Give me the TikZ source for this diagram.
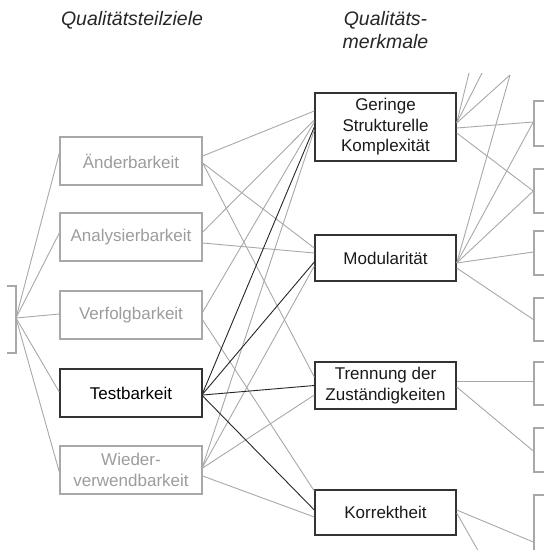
\documentclass[tikz,border=0pt]{standalone}
\usepackage{fontspec}
\setmainfont{Liberation Sans}
\usetikzlibrary{calc}

\definecolor{softgray}{HTML}{A8A8A8}
\definecolor{softtext}{HTML}{9C9C9C}
\definecolor{darkline}{HTML}{262626}
\definecolor{darkbox}{HTML}{333333}

\newcommand\diagboxfont{\fontsize{17}{20.5}\selectfont}
\newcommand\diaghead{\fontsize{19.5}{23}\selectfont\itshape}

\tikzset{
  goalbox/.style={draw=softgray, line width=1.4pt, text=softtext,
    minimum width=142pt, minimum height=48pt, inner sep=0pt,
    align=center, font=\diagboxfont},
  focusbox/.style={goalbox, draw=darkbox, text=black},
  traitbox/.style={draw=darkbox, line width=1.4pt, text=black!90,
    minimum width=141pt, inner sep=0pt, align=center, font=\diagboxfont},
  metricbox/.style={draw=softgray, line width=1.4pt, minimum width=52pt,
    inner sep=0pt},
  thin/.style={draw=softgray, line width=0.9pt},
  strong/.style={draw=darkline, line width=0.9pt},
  headline/.style={font=\diaghead, text=black!85, align=center, inner sep=0pt, anchor=base}
}

\begin{document}
\begin{tikzpicture}[x=1pt, y=-1pt]
  \useasboundingbox (0,0) rectangle (544,550);
  \clip (0,0) rectangle (544,550);

  % column headings (base anchor sits on the last line)
  \node[headline] (h1) at (132,25) {Qualitätsteilziele};
  \node[headline] (h2) at (385.5,48) {Qualitäts-\\merkmale};

  % root (partly outside the frame)
  \draw[softgray, line width=1.4pt] (7,286) -- (16,286) -- (16,353) -- (7,353);
  \coordinate (root) at (16,318);

  % quality sub-goals
  \node[goalbox]  (ae) at (131,161) {Änderbarkeit};
  \node[goalbox]  (an) at (131,237) {Analysierbarkeit};
  \node[goalbox]  (vf) at (131,315) {Verfolgbarkeit};
  \node[focusbox] (tb) at (131,393) {Testbarkeit};
  \node[goalbox]  (wv) at (131,470) {Wieder-\\verwendbarkeit};

  % quality characteristics
  \node[traitbox, minimum height=68pt] (gs) at (385.5,127) {Geringe\\Strukturelle\\Komplexität};
  \node[traitbox, minimum height=46pt] (mo) at (385.5,258) {Modularität};
  \node[traitbox, minimum height=47pt] (tr) at (385.5,385.5) {Trennung der\\Zuständigkeiten};
  \node[traitbox, minimum height=45pt] (ko) at (385.5,512.5) {Korrektheit};

  % metrics column (cut at the right border)
  \node[metricbox, minimum height=45pt] (r1) at (560,123.5) {};
  \node[metricbox, minimum height=44pt] (r2) at (560,191) {};
  \node[metricbox, minimum height=44pt] (r3) at (560,253) {};
  \node[metricbox, minimum height=43pt] (r4) at (560,319.5) {};
  \node[metricbox, minimum height=43pt] (r5) at (560,383.5) {};
  \node[metricbox, minimum height=44pt] (r6) at (560,450) {};
  \node[metricbox, minimum height=105pt] (r7) at (560,547.5) {};

  % loose ends leaving the frame
  \coordinate (up1) at (469,73);
  \coordinate (up2) at (482,73);
  \coordinate (up3) at (510,75);
  \coordinate (down1) at (484,561);

  % root to sub-goals
  \draw[thin] (root) -- ($(ae.west)+(0,-8)$);
  \draw[thin] (root) -- ($(an.west)+(0,-4)$);
  \draw[thin] (root) -- ($(vf.west)+(0,-1)$);
  \draw[thin] (root) -- ($(tb.west)+(0,-1)$);
  \draw[thin] (root) -- ($(wv.west)+(0,2)$);

  % sub-goals to characteristics
  \draw[thin] ($(ae.east)+(0,-5)$) -- ($(gs.west)+(0,-16)$);
  \draw[thin] ($(ae.east)+(0,2)$) -- ($(mo.west)+(0,-10)$);
  \draw[thin] ($(ae.east)+(0,2)$) -- ($(tr.west)+(0,-8.5)$);
  \draw[thin] ($(an.east)+(0,-5)$) -- ($(gs.west)+(0,-7)$);
  \draw[thin] ($(an.east)+(0,6)$) -- ($(mo.west)+(0,-5)$);
  \draw[thin] ($(vf.east)+(0,-3)$) -- ($(gs.west)+(0,-5)$);
  \draw[thin] ($(vf.east)+(0,5)$) -- ($(ko.west)+(0,-21.5)$);
  \draw[thin] ($(wv.east)+(0,-4)$) -- ($(gs.west)+(0,3)$);
  \draw[thin] ($(wv.east)+(0,-3)$) -- ($(mo.west)+(0,8)$);
  \draw[thin] ($(wv.east)+(0,-2)$) -- ($(tr.west)+(0,9.5)$);
  \draw[thin] ($(wv.east)+(0,6)$) -- ($(ko.west)+(0,4.5)$);

  \draw[strong] (tb.east) -- (gs.west);
  \draw[strong] ($(tb.east)+(0,1)$) -- ($(mo.west)+(0,4)$);
  \draw[strong] ($(tb.east)+(0,2)$) -- (tr.west);
  \draw[strong] ($(tb.east)+(0,3)$) -- ($(ko.west)+(0,-2.5)$);

  % characteristics to metrics
  \draw[thin] ($(gs.east)+(0,-4)$) -- (up1);
  \draw[thin] ($(gs.east)+(0,-4)$) -- (up2);
  \draw[thin] ($(gs.east)+(0,-4)$) -- (up3);
  \draw[thin] ($(gs.east)+(0,1)$) -- ($(r1.west)+(0,-1.5)$);
  \draw[thin] ($(gs.east)+(0,6)$) -- (r2.west);
  \draw[thin] ($(mo.east)+(0,5)$) -- (up3);
  \draw[thin] ($(mo.east)+(0,5)$) -- ($(r1.west)+(0,-1.5)$);
  \draw[thin] ($(mo.east)+(0,5)$) -- (r2.west);
  \draw[thin] ($(mo.east)+(0,5)$) -- ($(r3.west)+(0,-1)$);
  \draw[thin] ($(mo.east)+(0,10)$) -- (r4.west);
  \draw[thin] ($(tr.east)+(0,-4.5)$) -- ($(r5.west)+(0,-2.5)$);
  \draw[thin] ($(tr.east)+(0,1.5)$) -- ($(r6.west)+(0,1)$);
  \draw[thin] ($(ko.east)+(0,-2.5)$) -- ($(r7.west)+(0,-5.5)$);
  \draw[thin] ($(ko.east)+(0,0.5)$) -- (down1);
\end{tikzpicture}
\end{document}
